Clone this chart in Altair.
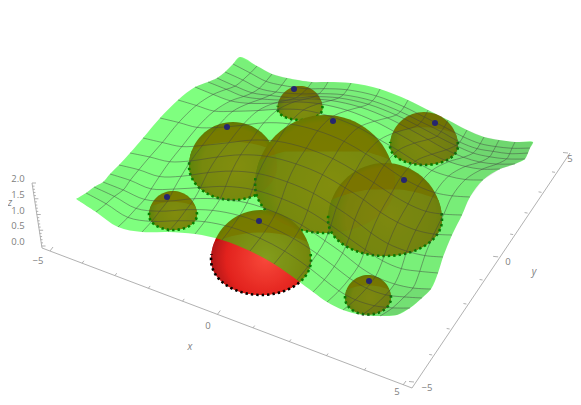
import altair as alt
import numpy as np
import pandas as pd

# surface edges: where the mesh lines meet the boundary
FRONT = [(76, 199), (96, 212), (118, 227), (142, 232), (168, 232), (195, 234), (222, 240), (250, 251),
         (274, 264), (297, 280), (313, 292), (327, 302), (343, 310), (362, 315), (380, 316), (397, 315)]
BACK = [(240, 57), (257, 66), (272, 74), (287, 78), (312, 82), (328, 82), (351, 83), (380, 89),
        (408, 100), (428, 110), (448, 120), (467, 130), (484, 137), (499, 140), (515, 142), (533, 142)]
LEFT = [(76, 199), (86, 193), (94, 187), (103, 182), (110, 174), (119, 165), (130, 153), (143, 138),
        (160, 118), (178, 100), (195, 87), (208, 82), (217, 78), (225, 72), (233, 64), (240, 57)]
RIGHT = [(397, 315), (410, 308), (422, 298), (431, 289), (438, 273), (443, 257), (452, 235), (462, 215),
         (470, 197), (483, 180), (500, 169), (515, 164), (525, 159), (528, 153), (530, 148), (533, 142)]
# interior height above the plain patch spanned by those edges
HEIGHT = [
    [0] * 16,
    [0, 2, 3, 4, 5, 6, 6, 6, 6, 6, 5, 4, 3, 2, 1, 0],
    [0, 3, 5, 7, 9, 10, 10, 10, 10, 10, 9, 7, 5, 3, 2, 0],
    [0, 4, 8, 11, 14, 15, 16, 16, 16, 15, 14, 11, 8, 5, 2, 0],
    [0, 5, 9, 13, 15, 17, 18, 18, 18, 17, 15, 13, 9, 5, 3, 0],
    [0, 6, 11, 15, 19, 21, 22, 22, 22, 21, 19, 15, 11, 7, 3, 0],
    [0, 6, 12, 16, 20, 22, 23, 23, 23, 22, 20, 16, 12, 7, 3, 0],
    [0, 5, 11, 15, 18, 20, 21, 21, 21, 20, 18, 15, 11, 6, 3, 0],
    [0, 5, 10, 13, 16, 18, 19, 19, 19, 18, 16, 13, 10, 6, 3, 0],
    [0, 4, 8, 11, 13, 14, 15, 15, 15, 14, 13, 11, 8, 5, 2, 0],
    [0, 2, 5, 6, 8, 9, 9, 9, 9, 9, 8, 6, 5, 3, 1, 0],
    [0, 2, 4, 5, 6, 7, 7, 7, 7, 7, 6, 5, 4, 2, 1, 0],
    [0, 1, 3, 4, 4, 5, 5, 5, 5, 5, 4, 4, 3, 2, 1, 0],
    [0, 1, 1, 1, 2, 2, 2, 2, 2, 2, 2, 1, 1, 1, 0, 0],
    [0] * 16,
    [0] * 16,
]
# domes: centre x, centre y, radius, contact-ellipse half height, blue dot x, y
DOME_CX = [300, 424, 233, 325, 385, 173, 261, 368]
DOME_CY = [108.5, 146, 166, 185, 220, 215, 260, 298]
DOME_R = [22.5, 34, 44, 70, 57, 24, 50, 23]
DOME_B = [11.5, 19, 34, 48, 36, 15, 35, 16.5]
DOME_GLOW = ["#ff2a20", "#ff2a20", "#ff2a20", "#ff2a20", "#ff2a20", "#ff2a20", "#ff4a40", "#ff2a20"]
DOT_X = [294, 435, 227, 333, 404, 167, 259, 369]
DOT_Y = [89, 123, 127, 121, 180, 197, 221, 281]

X_TICK_LABELS = ["\u22125", "0", "5"]
X_LABEL_X = [38, 208, 397]
X_LABEL_Y = [261, 326, 392]
Y_TICK_LABELS = ["\u22125", "0", "5"]
Y_LABEL_X = [427, 508, 570]
Y_LABEL_Y = [388, 262, 159]
Z_TICK_LABELS = ["2.0", "1.5", "1.0", "0.5", "0.0"]
Z_LABEL_Y = [179, 195, 211, 226, 242]

XS = alt.Scale(domain=[8, 573])
YS = alt.Scale(domain=[397, 8])
N = 16


def proj(i, j):
    s, t = i / (N - 1), j / (N - 1)
    out = []
    for c in (0, 1):
        v = (1 - s) * LEFT[j][c] + s * RIGHT[j][c] + (1 - t) * FRONT[i][c] + t * BACK[i][c]
        v -= (1 - s) * (1 - t) * FRONT[0][c] + s * (1 - t) * FRONT[-1][c] + (1 - s) * t * BACK[0][c] + s * t * BACK[-1][c]
        out.append(v)
    return out[0], out[1] - HEIGHT[j][i]


def line_chart(df, **mk):
    enc = dict(x=alt.X("x:Q", scale=XS, axis=None), y=alt.Y("y:Q", scale=YS, axis=None), order=alt.Order("k:Q"))
    if "g" in df:
        enc["detail"] = alt.Detail("g:N")
    return alt.Chart(df).mark_line(**mk).encode(**enc)


def dome_outline(cx, cy, r, b):
    a = np.linspace(0, 2 * np.pi, 73)
    yy = np.where(np.sin(a) > 0, b * np.sin(a), r * np.sin(a))
    return cx + r * np.cos(a), cy + yy


layers = []
tops = []
for cx, cy, r, b, glow in zip(DOME_CX, DOME_CY, DOME_R, DOME_B, DOME_GLOW):
    px, py = dome_outline(cx, cy, r, b)
    base = pd.DataFrame({"x": px, "y": py, "k": range(len(px))})
    tops.append(line_chart(base, interpolate="linear", strokeWidth=0, fill="#a04000", fillOpacity=0.08))
    layers.append(line_chart(base, interpolate="linear", strokeWidth=0, fill={
        "gradient": "radial", "x1": 0.5, "y1": 0.6, "r1": 0, "x2": 0.5, "y2": 0.6, "r2": 0.62,
        "stops": [{"offset": 0, "color": "#f40000"}, {"offset": 0.75, "color": "#e80000"}, {"offset": 1, "color": "#800010"}]}))
    arc = cy - 0.55 * r + 0.22 * r * ((px - cx) / r) ** 2
    inner = pd.DataFrame({"x": px, "y": np.maximum(py, arc), "k": range(len(px))})
    inner = inner[(np.sin(np.linspace(0, 2 * np.pi, 73)) > 0) | (py >= arc - 25)]
    inner["y"] = np.maximum(inner["y"], arc[inner.index])
    layers.append(line_chart(inner, interpolate="linear", strokeWidth=0, fill={
        "gradient": "radial", "x1": 0.55, "y1": 0.45, "r1": 0, "x2": 0.55, "y2": 0.45, "r2": 0.72,
        "stops": [{"offset": 0, "color": glow}, {"offset": 0.55, "color": "#e82020"}, {"offset": 1, "color": "#780514"}]}))
    a = np.linspace(-0.12, np.pi + 0.12, 40)
    dash = pd.DataFrame({"x": cx + r * np.cos(a), "y": cy + np.where(np.sin(a) > 0, b, r) * np.sin(a), "k": range(40)})
    layers.append(line_chart(dash, interpolate="linear", color="black", strokeWidth=2.6, strokeDash=[2.4, 3]))

# surface
ring = [(i, 0) for i in range(N)] + [(N - 1, j) for j in range(1, N)] + [(i, N - 1) for i in range(N - 2, -1, -1)] + [(0, j) for j in range(N - 2, -1, -1)]
rp = np.array([proj(i, j) for i, j in ring])
layers.append(line_chart(pd.DataFrame({"x": rp[:, 0], "y": rp[:, 1], "k": range(len(rp))}),
                         interpolate="catmull-rom", strokeWidth=0, fill="#00ff00", fillOpacity=0.5))

# cell shading
rows = []
cell_area = []
for j in range(N - 1):
    for i in range(N - 1):
        q = [proj(i, j), proj(i + 1, j), proj(i + 1, j + 1), proj(i, j + 1)]
        A = 0.5 * abs(sum(q[n][0] * q[(n + 1) % 4][1] - q[(n + 1) % 4][0] * q[n][1] for n in range(4)))
        cell_area.append(A)
mean_area = float(np.mean(cell_area))
n = 0
for j in range(N - 1):
    for i in range(N - 1):
        q = [proj(i, j), proj(i + 1, j), proj(i + 1, j + 1), proj(i, j + 1)]
        alpha = 0.20 * max(0, 1 - cell_area[n] / mean_area) + 0.10 * max(0, (i - 8) / 7)
        for k, (x, y) in enumerate(q):
            rows.append({"x": x, "y": y, "k": k, "g": n, "a": round(alpha, 3)})
        n += 1
shade = pd.DataFrame(rows)
layers.append(alt.Chart(shade).mark_line(strokeWidth=0, fill="#303030").encode(
    x=alt.X("x:Q", scale=XS, axis=None), y=alt.Y("y:Q", scale=YS, axis=None), order=alt.Order("k:Q"),
    detail=alt.Detail("g:N"), fillOpacity=alt.FillOpacity("a:Q", scale=None)))
layers.extend(tops)

# mesh
rows = []
g = 0
for m in range(1, N - 1):
    for k in range(N):
        x, y = proj(m, k)
        rows.append({"x": x, "y": y, "k": k, "g": g})
    g += 1
    for k in range(N):
        x, y = proj(k, m)
        rows.append({"x": x, "y": y, "k": k, "g": g})
    g += 1
layers.append(line_chart(pd.DataFrame(rows), interpolate="catmull-rom", color="#404040", strokeWidth=0.85, opacity=0.55))

# blue dots
layers.append(alt.Chart(pd.DataFrame({"x": DOT_X, "y": DOT_Y})).mark_circle(size=36, color="#26266e", opacity=1).encode(
    x=alt.X("x:Q", scale=XS, axis=None), y=alt.Y("y:Q", scale=YS, axis=None)))


# axes
def persp(t, r):
    return t / (t + r * (1 - t))


AX = "#a8a8a8"
rows = []
g = 0


def seg(p, q):
    global g
    rows.append({"x": p[0], "y": p[1], "k": 0, "g": g})
    rows.append({"x": q[0], "y": q[1], "k": 1, "g": g})
    g += 1


seg((42, 248), (412, 388))
seg((412, 388), (570, 153))
seg((42, 248), (32, 183))
for t in range(-5, 6):
    w = persp((t + 5) / 10, 1.11)
    p = (50 + 353 * w, 251 + 134 * w)
    L = 5 if t in (-5, 0, 5) else 3
    seg(p, (p[0] + L * 0.6, p[1] - L * 0.8))
    w = persp((t + 5) / 10, 0.83)
    p = (414 + 154 * w, 382 - 229 * w)
    seg(p, (p[0] - L, p[1] - 0.5))
for m in range(21):
    p = (41.5 - 9.5 * m / 20, 246 - 63 * m / 20)
    seg(p, (p[0] + (4 if m % 5 == 0 else 2), p[1]))
layers.append(line_chart(pd.DataFrame(rows), color=AX, strokeWidth=0.9))

labels = pd.DataFrame({
    "x": X_LABEL_X + Y_LABEL_X + [18] * 5,
    "y": X_LABEL_Y + Y_LABEL_Y + Z_LABEL_Y,
    "t": X_TICK_LABELS + Y_TICK_LABELS + Z_TICK_LABELS,
})
layers.append(alt.Chart(labels).mark_text(font="Open Sans", fontSize=9.5, color="#808080").encode(
    x=alt.X("x:Q", scale=XS, axis=None), y=alt.Y("y:Q", scale=YS, axis=None), text="t:N"))
names = pd.DataFrame({"x": [190, 534, 10], "y": [347, 272, 203], "t": ["x", "y", "z"]})
layers.append(alt.Chart(names).mark_text(font="Open Sans", fontSize=10, fontStyle="italic", color="#808080").encode(
    x=alt.X("x:Q", scale=XS, axis=None), y=alt.Y("y:Q", scale=YS, axis=None), text="t:N"))

chart = alt.layer(*layers).properties(width=565, height=389, padding=0,
                                      autosize=alt.AutoSizeParams(type="none")).configure_view(stroke=None)
chart.save("out.html", embed_options={"renderer": "svg", "actions": False})
